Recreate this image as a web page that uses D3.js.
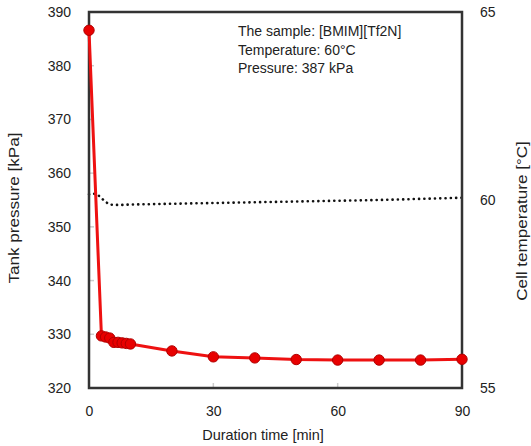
<!DOCTYPE html>
<html><head><meta charset="utf-8">
<script src="https://cdn.jsdelivr.net/npm/d3@7"></script>
<style>body{margin:0;background:#fff}svg text{font-family:"Liberation Sans",Arial,sans-serif;fill:#222}</style>
</head><body><svg id="c" width="531" height="446"></svg>
<script>
const timeP = [0, 3, 4, 5, 6, 7, 8, 9, 10, 20, 30, 40, 50, 60, 70, 80, 90];
const pressure = [386.6, 329.7, 329.5, 329.3, 328.5, 328.5, 328.4, 328.3, 328.2, 326.9, 325.8, 325.6, 325.3, 325.2, 325.2, 325.2, 325.35];
const timeT = [0, 1, 2, 3, 4, 5, 6, 8, 10, 20, 30, 40, 50, 60, 70, 80, 90];
const temperature = [60.15, 60.17, 60.15, 60.05, 59.95, 59.88, 59.87, 59.87, 59.88, 59.9, 59.92, 59.94, 59.96, 59.98, 60.0, 60.03, 60.06];
const xTicks = [0, 30, 60, 90];
const yTicks = [320, 330, 340, 350, 360, 370, 380, 390];
const y2Ticks = [55, 60, 65];
const infoLines = ["The sample: [BMIM][Tf2N]", "Temperature: 60°C", "Pressure: 387 kPa"];

const svg = d3.select("#c");
const L = 89, R = 462, T = 12, B = 388;
const x = d3.scaleLinear().domain([0, 90]).range([L, R]);
const y = d3.scaleLinear().domain([320, 390]).range([B, T]);
const y2 = d3.scaleLinear().domain([55, 65]).range([B, T]);

// axes (tick labels)
const ax = svg.append("g").attr("transform", `translate(0,${B})`)
  .call(d3.axisBottom(x).tickValues(xTicks).tickSize(0).tickPadding(18));
const ay = svg.append("g").attr("transform", `translate(${L},0)`)
  .call(d3.axisLeft(y).tickValues(yTicks).tickSize(0).tickPadding(18));
const ay2 = svg.append("g").attr("transform", `translate(${R},0)`)
  .call(d3.axisRight(y2).tickValues(y2Ticks).tickSize(0).tickPadding(18));
[ax, ay, ay2].forEach(g => {
  g.select(".domain").remove();
  g.selectAll("text").style("font-size", "14px").attr("fill", "#222");
});

// faint inner ticks
svg.append("g").selectAll("line").data(xTicks.slice(1, -1)).join("line")
  .attr("x1", d => x(d)).attr("x2", d => x(d)).attr("y1", B).attr("y2", B - 5)
  .attr("stroke", "#ccc").attr("stroke-width", 1.5);
svg.append("g").selectAll("line").data(yTicks.slice(1, -1)).join("line")
  .attr("x1", L).attr("x2", L + 5).attr("y1", d => y(d)).attr("y2", d => y(d))
  .attr("stroke", "#ccc").attr("stroke-width", 1.5);

// temperature dotted line
svg.append("path").datum(timeT.map((t, i) => [t, temperature[i]]))
  .attr("fill", "none").attr("stroke", "#111").attr("stroke-width", 2.6)
  .attr("stroke-dasharray", "0.1,5.2").attr("stroke-linecap", "round")
  .attr("d", d3.line().x(d => x(d[0])).y(d => y2(d[1])));

// frame
svg.append("rect").attr("x", L).attr("y", T).attr("width", R - L).attr("height", B - T)
  .attr("fill", "none").attr("stroke", "#333").attr("stroke-width", 2.5);

// pressure line + markers
const pdata = timeP.map((t, i) => [t, pressure[i]]);
svg.append("path").datum(pdata)
  .attr("fill", "none").attr("stroke", "#ee1111").attr("stroke-width", 3)
  .attr("d", d3.line().x(d => x(d[0])).y(d => y(d[1])));
svg.append("g").selectAll("circle").data(pdata).join("circle")
  .attr("cx", d => x(d[0])).attr("cy", d => y(d[1])).attr("r", 5.2)
  .attr("fill", "#e80000").attr("stroke", "#b00000").attr("stroke-width", 1);

// info text
svg.append("g").selectAll("text").data(infoLines).join("text")
  .attr("x", 238).attr("y", (d, i) => 36 + i * 18.5)
  .style("font-size", "14px").text(d => d);

// axis titles
svg.append("text").attr("x", 263).attr("y", 440).attr("text-anchor", "middle")
  .style("font-size", "14.5px").text("Duration time [min]");
svg.append("text").attr("transform", "translate(19,208) rotate(-90) scale(1.22,1)").attr("text-anchor", "middle")
  .style("font-size", "14px").text("Tank pressure [kPa]");
svg.append("text").attr("transform", "translate(527,221) rotate(-90) scale(1.22,1)").attr("text-anchor", "middle")
  .style("font-size", "14px").text("Cell temperature [°C]");
</script></body></html>
